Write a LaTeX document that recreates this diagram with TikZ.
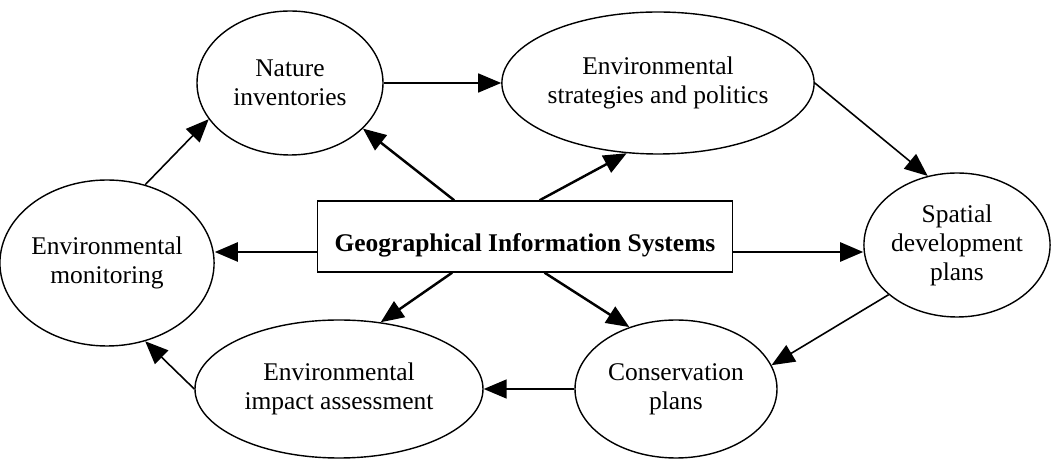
\documentclass[tikz,border=0pt]{standalone}
\usepackage{fontspec}
\setmainfont{Liberation Serif}
\usetikzlibrary{arrows.meta,positioning,calc,shapes.geometric}

\begin{document}
\begin{tikzpicture}[
    oval/.style={ellipse, draw, line width=0.8pt, inner sep=0pt, align=center,
                 font=\fontsize{14.5}{16.5}\selectfont},
    gisbox/.style={rectangle, draw, line width=0.8pt, inner sep=0pt, minimum width=8.3cm,
                 text height=1.02cm, text depth=0.40cm,
                 font=\fontsize{14.5}{16.5}\selectfont\bfseries},
    link/.style={line width=0.9pt, -{Triangle[length=0.46cm,width=0.38cm]}},
    gislink/.style={link, line width=1.4pt}
  ]
  \useasboundingbox (0,0) rectangle (21.06,9.18);

  % Central box
  \node[gisbox] (gis) at (10.50,4.45) {Geographical Information Systems};

  % Ellipses
  \node[oval, minimum width=3.72cm, minimum height=2.88cm] (nat) at (5.80,7.52) {Nature\\inventories};
  \node[oval, minimum width=5.60cm, minimum height=2.84cm] (strat) at (13.16,7.52) {Environmental\\strategies and politics};
  \node[oval, minimum width=3.68cm, minimum height=2.88cm] (spat) at (19.14,4.28) {Spatial\\development\\plans};
  \node[oval, minimum width=4.04cm, minimum height=2.76cm] (cons) at (13.52,1.40) {Conservation\\plans};
  \node[oval, minimum width=5.76cm, minimum height=2.76cm] (eia) at (6.78,1.40) {Environmental\\impact assessment};
  \node[oval, minimum width=4.24cm, minimum height=3.32cm] (mon) at (2.14,3.92) {Environmental\\monitoring};

  % Outer cycle
  \draw[link] (nat.east) -- (strat.west);
  \draw[link] (strat.east) -- (spat.113);
  \draw[link] (spat.216) -- (cons.14);
  \draw[link] (cons.west) -- (eia.east);
  \draw[link] (eia.west) -- (mon.-64);
  \draw[link] (mon.64) -- (nat.204);

  % From the GIS box
  \draw[gislink] ($(gis.north west)!0.33!(gis.north east)$) -- (nat.-32);
  \draw[gislink] ($(gis.north west)!0.535!(gis.north east)$) -- (strat.246);
  \draw[gislink] (gis.base west) -- (gis.base west -| mon.east);
  \draw[gislink] (gis.base east) -- (gis.base east -| spat.west);
  \draw[gislink] ($(gis.south west)!0.325!(gis.south east)$) -- (eia.58);
  \draw[gislink] ($(gis.south west)!0.547!(gis.south east)$) -- (cons.127);
\end{tikzpicture}
\end{document}
